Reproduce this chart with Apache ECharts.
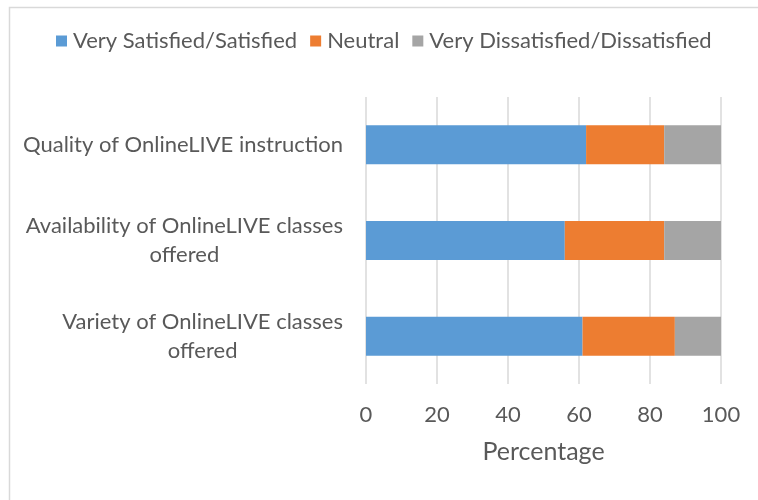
<!DOCTYPE html>
<html>
<head>
<meta charset="utf-8">
<script src="https://cdn.jsdelivr.net/npm/echarts@6/dist/echarts.min.js"></script>
<style>
  html, body { margin: 0; padding: 0; background: #fff; }
  #chart { width: 758px; height: 500px; }
</style>
</head>
<body>
<div id="chart"></div>
<script>
// categories, top to bottom
const categories = [
  "Quality of OnlineLIVE instruction",
  "Availability of OnlineLIVE classes\noffered",
  "Variety of OnlineLIVE classes\noffered",
];
const satisfied = [62, 56, 61];
const neutral = [22, 28, 26];
const dissatisfied = [16, 16, 13];
const seriesNames = ["Very Satisfied/Satisfied", "Neutral", "Very Dissatisfied/Dissatisfied"];
const xTicks = [0, 20, 40, 60, 80, 100];

const font = "Lato";
const textColor = "#595959";

const chart = echarts.init(document.getElementById("chart"));
const option = {
  animation: false,
  color: ["#5B9BD5", "#ED7D31", "#A5A5A5"],
  textStyle: { fontFamily: font },
  graphic: [
    {
      type: "rect",
      shape: { x: 9.5, y: 7.5, width: 760, height: 520 },
      style: { fill: "none", stroke: "#d9d9d9", lineWidth: 1.5 },
      silent: true,
    },
  ],
  legend: {
    top: 25,
    left: 51,
    itemWidth: 11,
    itemHeight: 11,
    itemGap: 13,
    icon: "rect",
    data: seriesNames,
    textStyle: { fontFamily: font, fontSize: 22, color: textColor, padding: [0, 0, 0, 1] },
  },
  grid: { left: 366, right: 37, top: 97, bottom: 116 },
  xAxis: {
    type: "value",
    min: xTicks[0],
    max: xTicks[xTicks.length - 1],
    interval: 20,
    name: "Percentage",
    nameLocation: "middle",
    nameGap: 55,
    nameTextStyle: { fontFamily: font, fontSize: 25, color: textColor },
    axisLine: { show: false },
    axisTick: { show: false },
    axisLabel: { fontFamily: font, fontSize: 22, color: textColor, margin: 20 },
    splitLine: { lineStyle: { color: "#d9d9d9", width: 1.5 } },
  },
  yAxis: {
    type: "category",
    inverse: true,
    data: categories,
    axisLine: { show: false },
    axisTick: { show: false },
    axisLabel: {
      margin: 23,
      formatter: (v) => v.split("\n").map((l) => "{c|" + l + "}").join("\n"),
      rich: {
        c: { align: "center", fontFamily: font, fontSize: 22, color: textColor, lineHeight: 29 },
      },
    },
  },
  series: [
    { name: seriesNames[0], type: "bar", stack: "all", barWidth: 39, data: satisfied },
    { name: seriesNames[1], type: "bar", stack: "all", barWidth: 39, data: neutral },
    { name: seriesNames[2], type: "bar", stack: "all", barWidth: 39, data: dissatisfied },
  ],
};
chart.setOption(option);
</script>
</body>
</html>
